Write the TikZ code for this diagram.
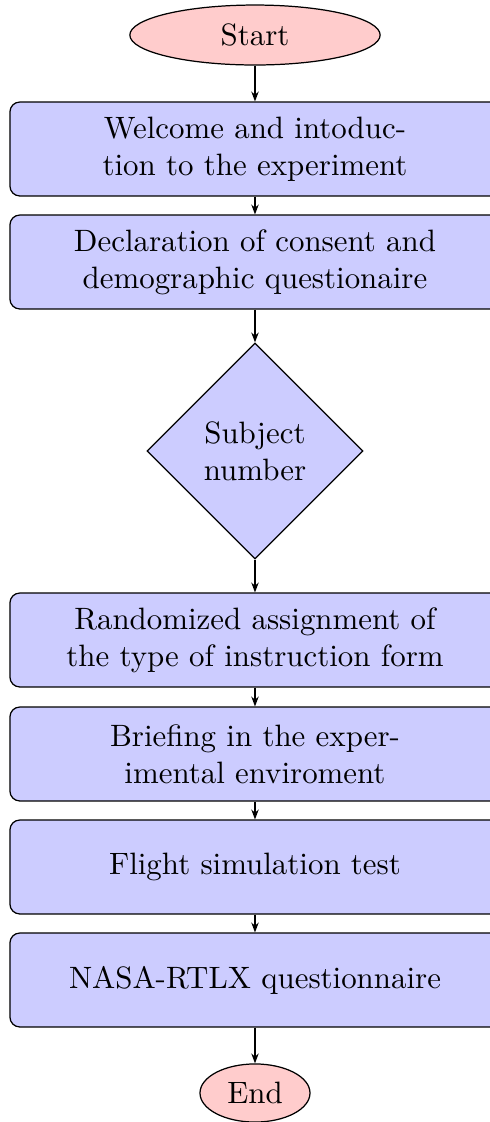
\documentclass[tikz,border=0pt]{standalone}
\usetikzlibrary{shapes.geometric,arrows.meta}
\definecolor{startred}{RGB}{255,204,204}
\definecolor{procblue}{RGB}{204,204,255}
\begin{document}
\begin{tikzpicture}[x=0.3236pt,y=-0.3236pt,
  terminal/.style={ellipse,draw,fill=startred,inner sep=0pt},
  process/.style={rectangle,rounded corners=3.2pt,draw,fill=procblue,
    minimum width=158.6pt,minimum height=30.4pt,align=center,inner sep=0pt},
  decision/.style={diamond,draw,fill=procblue,minimum width=69.9pt,minimum height=69.9pt,
    aspect=1,inner sep=0pt,align=center},
  flow/.style={-{Stealth[length=3.2pt,width=2.4pt]}}]
\useasboundingbox (0,0) rectangle (490,1122);
\begin{scope}
\clip (0,0) rectangle (490,1122);
\node[terminal,minimum width=81pt,minimum height=19.4pt] (start) at (255,35) {Start};
\node[process] (welcome) at (255,149) {Welcome and intoduc-\\tion to the experiment};
\node[process] (consent) at (255,262) {Declaration of consent and\\demographic questionaire};
\node[decision] (subject) at (255,451) {Subject\\number};
\node[process] (random) at (255,640) {Randomized assignment of\\the type of instruction form};
\node[process] (briefing) at (255,754) {Briefing in the exper-\\imental enviroment};
\node[process] (flight) at (255,867) {Flight simulation test};
\node[process] (nasa) at (255,980) {NASA-RTLX questionnaire};
\node[terminal,minimum width=35.6pt,minimum height=18.8pt] (end) at (255,1093) {End};
\draw[flow] (start) -- (welcome);
\draw[flow] (welcome) -- (consent);
\draw[flow] (consent) -- (subject);
\draw[flow] (subject) -- (random);
\draw[flow] (random) -- (briefing);
\draw[flow] (briefing) -- (flight);
\draw[flow] (flight) -- (nasa);
\draw[flow] (nasa) -- (end);
\end{scope}
\end{tikzpicture}
\end{document}
